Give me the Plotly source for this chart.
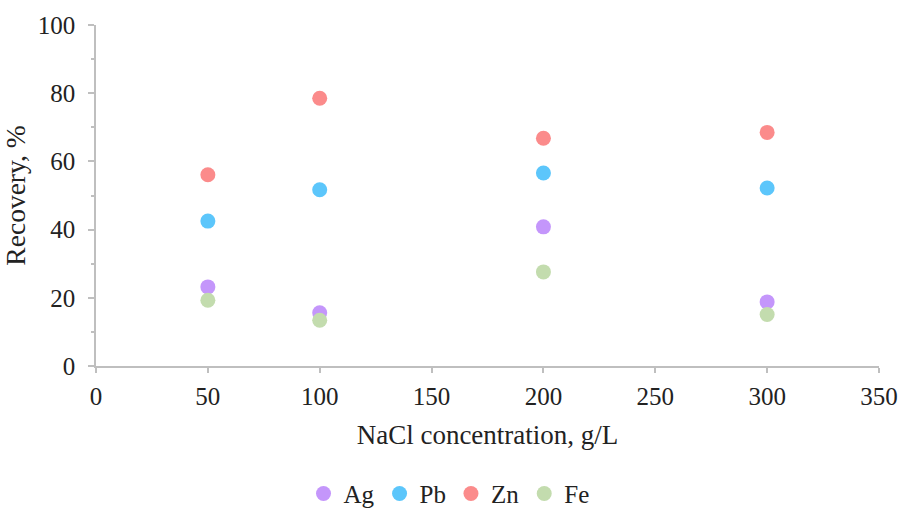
import plotly.graph_objects as go

nacl = [50, 100, 200, 300]
ag = [23.2, 15.6, 40.8, 18.8]
pb = [42.5, 51.7, 56.6, 52.2]
zn = [56.1, 78.5, 66.8, 68.5]
fe = [19.3, 13.4, 27.6, 15.1]

series = [("Ag", ag, "#c496fb"), ("Pb", pb, "#5cc6fb"), ("Zn", zn, "#fb8b8b"), ("Fe", fe, "#c3dcae")]

fig = go.Figure()
for name, vals, col in series:
    fig.add_trace(go.Scatter(x=nacl, y=vals, mode="markers", name=name,
                             marker=dict(size=15, color=col, line=dict(width=0))))

txt = "#222222"
fig.update_layout(
    width=898, height=508,
    margin=dict(l=96, r=19, t=25, b=142, autoexpand=False),
    paper_bgcolor="white", plot_bgcolor="white",
    font=dict(family="Liberation Serif", size=25, color=txt),
    showlegend=True,
    legend=dict(orientation="h", x=0.5, xanchor="center", xref="container",
                y=0.028, yanchor="middle", yref="container",
                font=dict(family="Liberation Serif", size=25, color=txt),
                itemwidth=30, tracegroupgap=0, itemsizing="trace",
                borderwidth=0, bgcolor="rgba(0,0,0,0)"),
    xaxis=dict(range=[0, 350], tickvals=[0, 50, 100, 150, 200, 250, 300, 350],
               showgrid=False, zeroline=False, showline=True, linecolor="#bfbfbf", linewidth=1.5,
               ticks="outside", ticklen=5, tickcolor="#bfbfbf", tickwidth=1.5,
               ticklabelstandoff=2,
               title=dict(text="NaCl concentration, g/L", font=dict(family="Liberation Serif", size=27, color=txt), standoff=16)),
    yaxis=dict(range=[0, 100], tickvals=[0, 20, 40, 60, 80, 100],
               showgrid=False, zeroline=False, showline=True, linecolor="#bfbfbf", linewidth=1.5,
               ticks="outside", ticklen=6, tickcolor="#bfbfbf", tickwidth=1.5,
               ticklabelstandoff=8,
               minor=dict(tickvals=[10, 30, 50, 70, 90], ticks="outside", ticklen=3, tickcolor="#bfbfbf", tickwidth=1.5),
               title=dict(text="Recovery, %", font=dict(family="Liberation Serif", size=27.5, color=txt), standoff=7)),
)
fig.write_html("out.html", config={"displayModeBar": False},
               post_script="document.body.style.margin='0';document.body.style.overflow='hidden';")
